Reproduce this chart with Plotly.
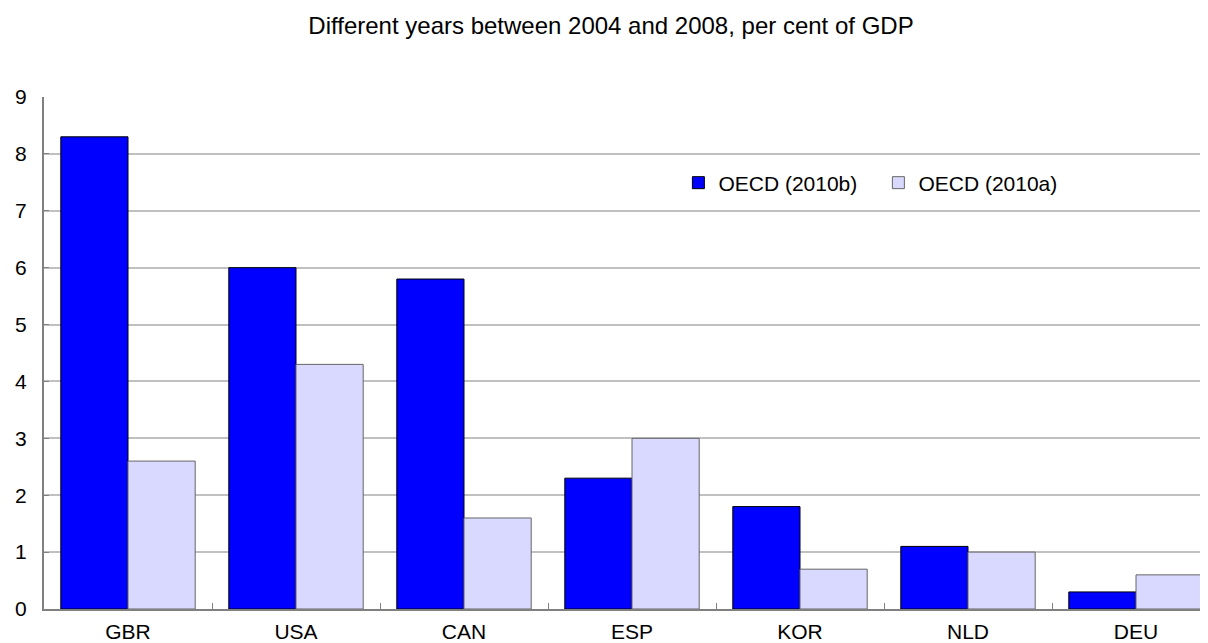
import plotly.graph_objects as go

categories = ["GBR", "USA", "CAN", "ESP", "KOR", "NLD", "DEU"]
oecd_2010b = [8.3, 6.0, 5.8, 2.3, 1.8, 1.1, 0.3]
oecd_2010a = [2.6, 4.3, 1.6, 3.0, 0.7, 1.0, 0.6]
title_text = "Different years between 2004 and 2008, per cent of GDP"

fig = go.Figure()
fig.add_trace(go.Bar(x=categories, y=oecd_2010b, name="OECD (2010b)",
                     marker=dict(color="#0000FF", line=dict(color="#000000", width=1))))
fig.add_trace(go.Bar(x=categories, y=oecd_2010a, name="OECD (2010a)",
                     marker=dict(color="#D9D9FF", line=dict(color="#666666", width=1))))

# The page body adds an 8px offset, so the figure is 8px smaller than the window
fig.update_layout(
    width=1200, height=635,
    margin=dict(l=36, r=0, t=89, b=34, autoexpand=False),
    paper_bgcolor="white", plot_bgcolor="white",
    barmode="group", bargap=0.2, bargroupgap=0,
    font=dict(family="Liberation Sans, Arial", size=21, color="black"),
    title=dict(text=title_text, x=0.5025, xanchor="center", y=0.972, yanchor="middle",
               font=dict(size=24)),
    legend=dict(orientation="h", x=0.545, y=0.832, xanchor="left", yanchor="middle",
                bgcolor="rgba(0,0,0,0)", font=dict(size=21),
                entrywidth=155, entrywidthmode="pixels",
                traceorder="normal"),
    showlegend=True,
)
fig.update_xaxes(range=[-0.5, 1164 / 168 - 0.5], showline=True, linecolor="#808080",
                 linewidth=2, ticks="inside", tickson="boundaries", ticklen=6,
                 tickcolor="#808080", showgrid=False, automargin=False,
                 ticklabelstandoff=3)
fig.update_yaxes(range=[0, 9], dtick=1, showline=True, linecolor="#808080", linewidth=2,
                 ticks="inside", ticklen=5, tickcolor="#808080", showgrid=True,
                 gridcolor="#C0C0C0", gridwidth=1.5, zeroline=False, automargin=False,
                 ticklabelstandoff=11)

fig.write_html("out.html")
